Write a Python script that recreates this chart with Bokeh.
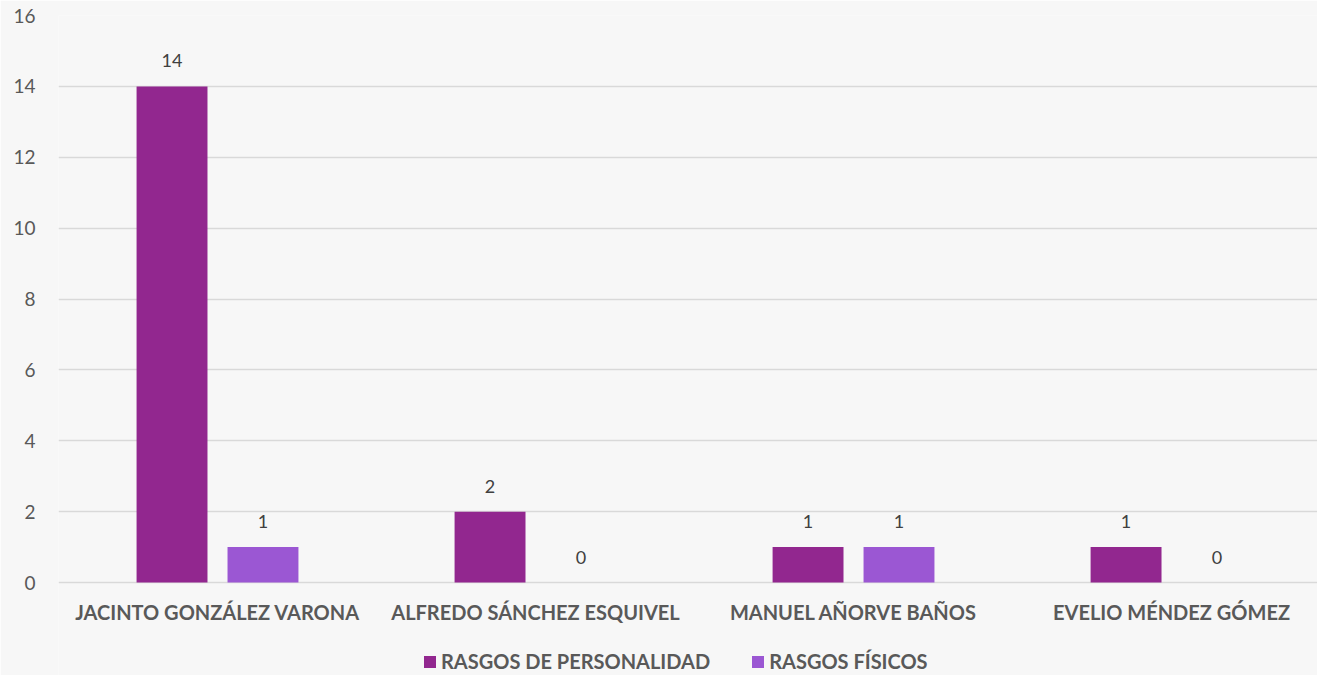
from bokeh.plotting import figure
from bokeh.models import ColumnDataSource, Range1d, FixedTicker, Legend, LegendItem, LabelSet
from bokeh.core.properties import value
from bokeh.embed import file_html
from bokeh.resources import INLINE

categories = ["JACINTO GONZÁLEZ VARONA", "ALFREDO SÁNCHEZ ESQUIVEL", "MANUEL AÑORVE BAÑOS", "EVELIO MÉNDEZ GÓMEZ"]
personalidad = [14, 2, 1, 1]
fisicos = [1, 0, 1, 0]
series_names = ["RASGOS DE PERSONALIDAD", "RASGOS FÍSICOS"]
y_ticks = [0, 2, 4, 6, 8, 10, 12, 14, 16]

FONT = "Lato"
TXT = "#595959"
c1, c2 = "#92278F", "#9B57D3"

idx = list(range(len(categories)))
off = 0.143
bw = 0.223
s1 = ColumnDataSource(dict(x=[i - off for i in idx], y=personalidad, lbl=[str(v) for v in personalidad]))
s2 = ColumnDataSource(dict(x=[i + off for i in idx], y=fisicos, lbl=[str(v) for v in fisicos]))
sc = ColumnDataSource(dict(x=idx, y=[0] * len(idx), name=categories))

# frame spans from the top gridline down to the bottom of the page; the area below 0 holds
# the category labels and the legend
y_bottom = -(675 - 582) * 16 / (582 - 15)
p = figure(width=1317, height=675, output_backend="svg", toolbar_location=None,
           x_range=Range1d(-0.5, 3.459), y_range=Range1d(y_bottom, 16),
           x_axis_location=None,
           min_border_left=58, min_border_top=15, min_border_right=0, min_border_bottom=0)
p.background_fill_color = "#F7F7F7"
p.border_fill_color = "#F7F7F7"
p.outline_line_color = None

r1 = p.vbar(x="x", top="y", width=bw, source=s1, fill_color=c1, line_color=None)
r2 = p.vbar(x="x", top="y", width=bw, source=s2, fill_color=c2, line_color=None)

for s in (s1, s2):
    p.add_layout(LabelSet(x="x", y="y", text="lbl", source=s, text_align="center", text_baseline="bottom",
                          y_offset=19, text_font=value(FONT), text_font_size=value("18px"),
                          text_color="#404040"))

p.add_layout(LabelSet(x="x", y="y", text="name", source=sc, text_align="center", text_baseline="middle",
                      y_offset=-29, text_font=value(FONT), text_font_size=value("20px"),
                      text_font_style="bold", text_color=TXT))

p.xgrid.visible = False
p.ygrid.ticker = FixedTicker(ticks=y_ticks)
p.ygrid.grid_line_color = "#D9D9D9"
p.ygrid.grid_line_width = 1.5

p.yaxis.ticker = FixedTicker(ticks=y_ticks)
p.yaxis.axis_line_color = None
p.yaxis.major_tick_line_color = None
p.yaxis.minor_tick_line_color = None
p.yaxis.major_label_text_font = FONT
p.yaxis.major_label_text_font_size = "19px"
p.yaxis.major_label_text_color = TXT
p.yaxis.major_label_standoff = 17

legend = Legend(items=[LegendItem(label=series_names[0], renderers=[r1]),
                       LegendItem(label=series_names[1], renderers=[r2])],
                orientation="horizontal", location=(364, 2),
                label_text_font=FONT, label_text_font_size="20px", label_text_font_style="bold",
                label_text_color=TXT, glyph_width=15, glyph_height=15, spacing=40, label_standoff=4,
                background_fill_alpha=0, border_line_color=None, margin=0, padding=0)
p.add_layout(legend, "center")

open("out.html", "w").write(file_html(p, INLINE))
